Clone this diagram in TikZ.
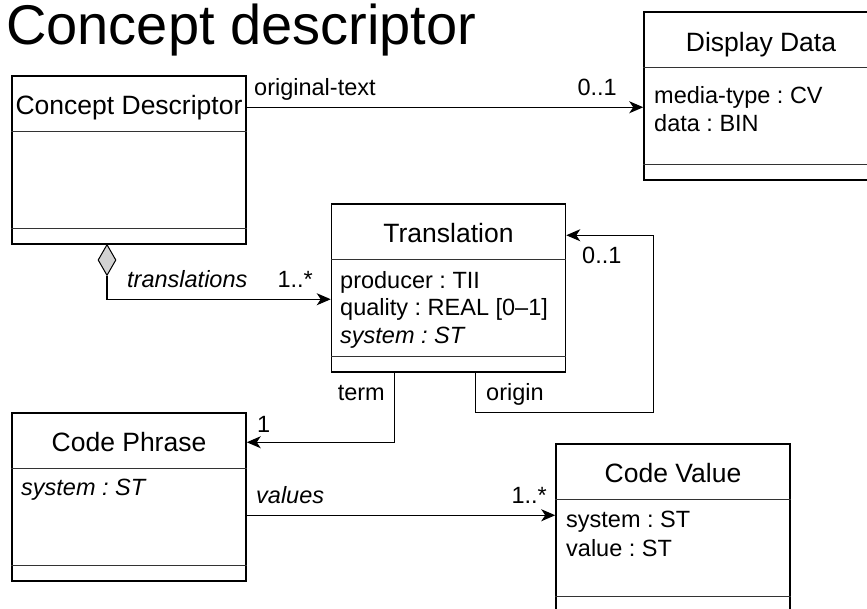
\documentclass[tikz,border=0pt]{standalone}
\usepackage{fontspec}
\setmainfont{Liberation Sans}
\usetikzlibrary{calc,arrows.meta,shapes.geometric}
\frenchspacing

% horizontal rules separating name, attribute and operation compartments
\newcommand\umlcompartments[1]{%
  \draw[divider] ($(#1.north west)+(0,56)$) -- ($(#1.north east)+(0,56)$);
  \draw[divider] ($(#1.south west)+(0,-16)$) -- ($(#1.south east)+(0,-16)$);
}

\begin{document}
\begin{tikzpicture}[x=1pt,y=-1pt,
  classbox/.style={draw, line width=1.5pt, minimum width=234pt, minimum height=168pt, inner sep=0pt, fill=white},
  divider/.style={line width=1pt, draw=black!80},
  assoc/.style={line width=1.2pt, -{Stealth[length=14pt,width=12pt,inset=4pt]}},
  heading/.style={anchor=base west, inner sep=0pt, font=\fontsize{56}{64}\selectfont},
  ctitle/.style={anchor=base, inner sep=0pt, font=\fontsize{26.5}{30}\selectfont},
  attr/.style={anchor=base west, inner sep=0pt, font=\fontsize{23.5}{28}\selectfont},
  lbl/.style={inner sep=0pt, font=\fontsize{23.5}{28}\selectfont},
  aggdiamond/.style={diamond, draw, line width=1pt, fill=black!18, minimum width=18pt, minimum height=31pt, inner sep=0pt, anchor=north},
]
\clip (0,0) rectangle (867,608);

% page heading
\node[heading] (head) at (6,44) {Concept descriptor};

% class boxes
\node[classbox] (cd) at (129,160) {};
\node[classbox] (dd) at (761,96) {};
\node[classbox] (tr) at (448.5,288) {};
\node[classbox] (cp) at (129,497) {};
\node[classbox] (cv) at (673,528) {};
\umlcompartments{cd}
\umlcompartments{dd}
\umlcompartments{tr}
\umlcompartments{cp}
\umlcompartments{cv}

% class names
\node[ctitle] (cdname) at ($(cd.north)+(0,39)$) {Concept Descriptor};
\node[ctitle] (ddname) at ($(dd.north)+(0,40)$) {Display Data};
\node[ctitle] (trname) at ($(tr.north)+(0,39)$) {Translation};
\node[ctitle] (cpname) at ($(cp.north)+(0,39)$) {Code Phrase};
\node[ctitle] (cvname) at ($(cv.north)+(0,39)$) {Code Value};

% attributes
\node[attr] (dda1) at (654,103) {media-type : CV};
\node[attr] (dda2) at (654,131) {data : BIN};
\node[attr] (tra1) at (340,288) {producer : TII};
\node[attr] (tra2) at (340,315.5) {quality : REAL [0–1]};
\node[attr] (tra3) at (340,343) {\itshape system : ST};
\node[attr] (cpa1) at (21,495) {\itshape system : ST};
\node[attr] (cva1) at (566,527) {system : ST};
\node[attr] (cva2) at (566,556) {value : ST};

% original-text association
\draw[assoc] ($(cd.north east)+(0,32)$) coordinate (ot) -- (ot -| dd.west);
\node[lbl, anchor=base west] (otname) at (254,95) {original-text};
\node[lbl, anchor=base east] (otmult) at (617,95) {0..1};

% translations aggregation
\node[aggdiamond] (agg) at (107,244) {};
\draw[assoc] (agg.south) |- ($(tr.north west)+(0,96)$);
\node[lbl, anchor=base west] (trname2) at (127,287) {\itshape translations};
\node[lbl, anchor=base east] (trmult) at (313,287) {1..*};

% term association
\draw[assoc] ($(tr.south west)+(64,0)$) |- ($(cp.north east)+(0,30)$);
\node[lbl, anchor=base east] (termname) at (385,400) {term};
\node[lbl, anchor=base west] (termmult) at (257,432) {1};

% origin self-association
\draw[assoc] ($(tr.south west)+(145,0)$) -- ++(0,40) -| ($(tr.north east)+(87,32)$) -- ($(tr.north east)+(0,32)$);
\node[lbl, anchor=base west] (origname) at (486,400) {origin};
\node[lbl, anchor=base west] (origmult) at (582,263) {0..1};

% values association
\draw[assoc] ($(cp.north east)+(0,103)$) coordinate (vl) -- (vl -| cv.west);
\node[lbl, anchor=base west] (valname) at (256,503) {\itshape values};
\node[lbl, anchor=base east] (valmult) at (547,503) {1..*};
\end{tikzpicture}
\end{document}
